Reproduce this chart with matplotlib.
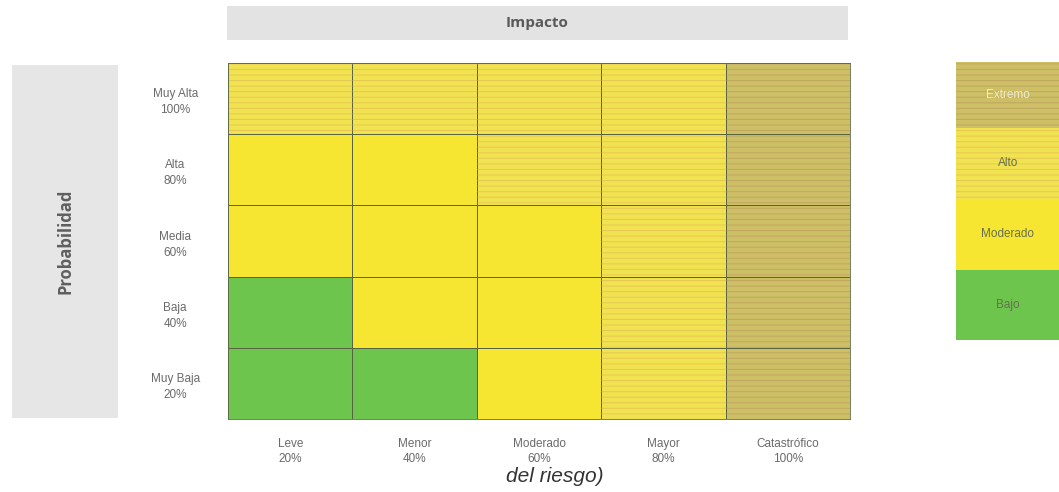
import matplotlib
matplotlib.use("Agg")
import matplotlib.pyplot as plt
from matplotlib.colors import ListedColormap
from matplotlib.patches import Rectangle
import numpy as np

# Risk matrix content
impact_labels = ["Leve\n20%", "Menor\n40%", "Moderado\n60%", "Mayor\n80%", "Catastrófico\n100%"]
prob_labels = ["Muy Alta\n100%", "Alta\n80%", "Media\n60%", "Baja\n40%", "Muy Baja\n20%"]
level_names = ["Bajo", "Moderado", "Alto", "Extremo"]
level_colors = ["#6ec54e", "#f7e631", "#f1e24f", "#cdbf66"]
stripe_colors = [None, None, "#d9a85c", "#b48a55"]

# Risk level per cell (rows from Muy Alta down to Muy Baja)
risk_matrix = [
    ["Alto", "Alto", "Alto", "Alto", "Extremo"],
    ["Moderado", "Moderado", "Alto", "Alto", "Extremo"],
    ["Moderado", "Moderado", "Moderado", "Alto", "Extremo"],
    ["Bajo", "Moderado", "Moderado", "Alto", "Extremo"],
    ["Bajo", "Bajo", "Moderado", "Alto", "Extremo"],
]

plt.rcParams["font.family"] = ["Liberation Sans", "DejaVu Sans"]
plt.rcParams["hatch.linewidth"] = 0.7

W, H = 1059, 492
fig = plt.figure(figsize=(W / 100, H / 100), dpi=100)
fig.patch.set_facecolor("white")


def px_axes(x0, y0, x1, y1):
    return fig.add_axes([x0 / W, 1 - y1 / H, (x1 - x0) / W, (y1 - y0) / H])


# Header banner
ax_top = px_axes(227, 6, 848, 40)
ax_top.set_facecolor("#e3e3e3")
ax_top.set_xticks([]); ax_top.set_yticks([])
for s in ax_top.spines.values():
    s.set_visible(False)
ax_top.text(0.5, 0.5, "Impacto", ha="center", va="center", fontsize=11,
            fontweight="bold", color="#5a5a5a", family="Open Sans",
            transform=ax_top.transAxes)

# Side banner
ax_side = px_axes(12, 65, 118, 418)
ax_side.set_facecolor("#e6e6e6")
ax_side.set_xticks([]); ax_side.set_yticks([])
for s in ax_side.spines.values():
    s.set_visible(False)
ax_side.text(0.5, 0.5, "Probabilidad", ha="center", va="center", rotation=90,
             fontsize=12, fontweight="bold", color="#5e5e5e", family="Open Sans",
             transform=ax_side.transAxes)

# Heat map
codes = np.array([[level_names.index(v) for v in row] for row in risk_matrix])
cmap = ListedColormap(level_colors)
ax = px_axes(228, 63, 850, 419)
ax.pcolormesh(np.arange(6), np.arange(6), codes, cmap=cmap, vmin=-0.5, vmax=3.5,
              edgecolors="#56653f", linewidth=0.6)
for r, row in enumerate(codes):
    for c, code in enumerate(row):
        if stripe_colors[code]:
            ax.add_patch(Rectangle((c, r), 1, 1, fill=False, hatch="---",
                                   edgecolor=stripe_colors[code], lw=0, alpha=0.45))
ax.set_xlim(0, 5)
ax.set_ylim(5, 0)
ax.set_xticks(np.arange(5) + 0.5)
ax.set_xticklabels(impact_labels, fontsize=8.5, color="#6a6a6a", linespacing=1.25)
ax.set_yticks(np.arange(5) + 0.5)
ax.set_yticklabels(prob_labels, fontsize=8.5, color="#6a6a6a", linespacing=1.45,
                   ha="center")
ax.tick_params(length=0)
ax.tick_params(axis="x", pad=14)
ax.tick_params(axis="y", pad=38)
for s in ax.spines.values():
    s.set_color("#5f6d48")
    s.set_linewidth(0.6)

fig.text(555 / W, 1 - 476 / H, "del riesgo)", ha="center", va="center",
         fontsize=15, style="italic", color="#333333")

# Legend column
leg_order = ["Extremo", "Alto", "Moderado", "Bajo"]
leg_bounds = [62, 128, 199, 270, 340]
ax_leg = px_axes(956, 62, 1066, 340)
leg_codes = np.array([[level_names.index(n)] for n in leg_order])
ax_leg.pcolormesh(np.array([0, 1]), np.array(leg_bounds), leg_codes, cmap=cmap,
                  vmin=-0.5, vmax=3.5)
for i, n in enumerate(leg_order):
    code = level_names.index(n)
    if stripe_colors[code]:
        ax_leg.add_patch(Rectangle((0, leg_bounds[i]), 1, leg_bounds[i + 1] - leg_bounds[i],
                                   fill=False, hatch="---", edgecolor=stripe_colors[code],
                                   lw=0, alpha=0.45))
    ax_leg.text(0.47, (leg_bounds[i] + leg_bounds[i + 1]) / 2, n, ha="center",
                va="center", fontsize=8.5,
                color="#f2ead0" if n == "Extremo" else "#66704c")
ax_leg.set_xlim(0, 1)
ax_leg.set_ylim(leg_bounds[-1], leg_bounds[0])
ax_leg.axis("off")

fig.savefig("out.png", dpi=100)
